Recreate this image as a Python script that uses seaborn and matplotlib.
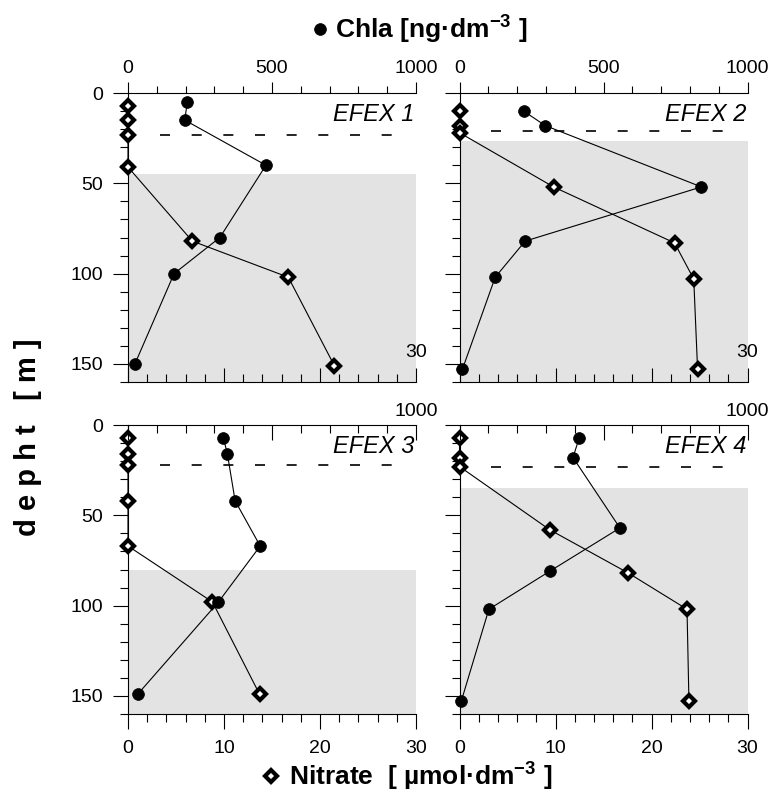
import pandas as pd
import seaborn as sns
import matplotlib.pyplot as plt
from matplotlib.lines import Line2D
from matplotlib.ticker import MultipleLocator

# Stations
stations = ["EFEX 1", "EFEX 2", "EFEX 3", "EFEX 4"]

# Chla profiles [ng/dm3] vs depth [m]
chla_depth_1 = [5, 15, 40, 80, 100, 150]
chla_1 = [206, 197, 479, 319, 160, 24]
chla_depth_2 = [10, 18, 52, 82, 102, 153]
chla_2 = [223, 297, 840, 228, 124, 10]
chla_depth_3 = [7, 16, 42, 67, 98, 149]
chla_3 = [331, 345, 372, 459, 314, 34]
chla_depth_4 = [7, 18, 57, 81, 102, 153]
chla_4 = [416, 394, 557, 313, 102, 6]

# Nitrate profiles [umol/dm3] vs depth [m]
no3_depth_1 = [7, 15, 23, 41, 82, 102, 151]
no3_1 = [0, 0, 0, 0, 6.7, 16.7, 21.5]
no3_depth_2 = [10, 18, 22, 52, 83, 103, 153]
no3_2 = [0, 0, 0, 9.8, 22.4, 24.4, 24.8]
no3_depth_3 = [7, 16, 22, 42, 67, 98, 149]
no3_3 = [0, 0, 0, 0, 0, 8.8, 13.7]
no3_depth_4 = [7, 18, 23, 58, 82, 102, 153]
no3_4 = [0, 0, 0, 9.4, 17.6, 23.7, 23.9]

# mixed layer depth (dashed) and top of shaded layer [m]
mixed_layer = [23, 21, 22, 23]
shade_top = [45, 26.5, 80, 35]

depth_max = 160
no3_max = 30
chla_max = 1000

chla = [chla_1, chla_2, chla_3, chla_4]
chla_depth = [chla_depth_1, chla_depth_2, chla_depth_3, chla_depth_4]
no3 = [no3_1, no3_2, no3_3, no3_4]
no3_depth = [no3_depth_1, no3_depth_2, no3_depth_3, no3_depth_4]

sns.set_style("ticks")
plt.rcParams["font.family"] = ["Liberation Sans", "DejaVu Sans"]
plt.rcParams["mathtext.fontset"] = "custom"
plt.rcParams["mathtext.rm"] = "Liberation Sans:bold"
plt.rcParams["mathtext.it"] = "Liberation Sans:italic:bold"
plt.rcParams["mathtext.bf"] = "Liberation Sans:bold"
for k in ["text.color", "axes.labelcolor", "xtick.color", "ytick.color",
          "axes.edgecolor"]:
    plt.rcParams[k] = "black"

chla_style = dict(color="k", lw=0.8, marker="o", markersize=8.5,
                  markeredgecolor="k", markeredgewidth=0.5)
no3_style = dict(color="k", lw=0.8, marker="D", markersize=6,
                 markerfacecolor="white", markeredgecolor="k",
                 markeredgewidth=3)

W, H = 773, 805
fig = plt.figure(figsize=(W / 100, H / 100), dpi=100)

# panel boxes in pixels: left, top
boxes = [(128, 93), (459.5, 93), (128, 425), (459.5, 425)]
pw, ph = 288, 289

for i in range(4):
    x0, y0 = boxes[i]
    ax = fig.add_axes([x0 / W, 1 - (y0 + ph) / H, pw / W, ph / H])
    ax2 = ax.twiny()
    top_row = i < 2

    ax.axhspan(shade_top[i], depth_max, color="#e3e3e3", lw=0, zorder=0)
    ax.axhline(mixed_layer[i], xmin=0.11, xmax=0.94, color="k", lw=1.2,
               ls=(0, (6, 13)), zorder=1)

    df_no3 = pd.DataFrame({"no3": no3[i], "depth": no3_depth[i]})
    sns.lineplot(data=df_no3, x="no3", y="depth", ax=ax, orient="y",
                 estimator=None, clip_on=False, zorder=3, **no3_style)

    df_chla = pd.DataFrame({"chla": chla[i], "depth": chla_depth[i]})
    sns.lineplot(data=df_chla, x="chla", y="depth", ax=ax2, orient="y",
                 estimator=None, clip_on=False, zorder=3, **chla_style)

    ax.set_xlim(0, no3_max)
    ax2.set_xlim(0, chla_max)
    ax.set_ylim(depth_max, 0)
    ax.set_xlabel("")
    ax.set_ylabel("")
    ax2.set_xlabel("")
    ax2.set_ylabel("")

    ax.xaxis.set_major_locator(MultipleLocator(10))
    ax.xaxis.set_minor_locator(MultipleLocator(2))
    ax.yaxis.set_major_locator(MultipleLocator(50))
    ax.yaxis.set_minor_locator(MultipleLocator(10))
    ax2.xaxis.set_major_locator(MultipleLocator(500))
    ax2.xaxis.set_minor_locator(MultipleLocator(100))

    ax.tick_params(axis="y", which="major", direction="out", length=11,
                   width=0.8, labelsize=14, pad=7, labelleft=(i % 2 == 0))
    ax.tick_params(axis="y", which="minor", direction="out", length=5.5,
                   width=0.8)

    if top_row:
        ax.tick_params(axis="x", which="major", direction="in", length=10,
                       width=0.8, labelbottom=False)
        ax.tick_params(axis="x", which="minor", direction="in", length=6,
                       width=0.8)
        ax2.tick_params(axis="x", which="major", direction="out", length=8,
                        width=0.8, labelsize=14, pad=3.5, labeltop=True)
        ax2.tick_params(axis="x", which="minor", direction="out", length=4.8,
                        width=0.8)
        ax.text(no3_max, 0.102, "30", transform=ax.get_xaxis_transform(),
                ha="center", va="center", fontsize=14)
    else:
        ax.tick_params(axis="x", which="major", direction="out", length=11,
                       width=0.8, labelsize=14, pad=8, labelbottom=True)
        ax.tick_params(axis="x", which="minor", direction="out", length=5.5,
                       width=0.8)
        ax2.tick_params(axis="x", which="major", direction="in", length=11,
                        width=0.8, labeltop=False)
        ax2.tick_params(axis="x", which="minor", direction="in", length=5.5,
                        width=0.8)
        ax2.text(chla_max, 1.046, "1000", transform=ax2.get_xaxis_transform(),
                 ha="center", va="center", fontsize=14)

    for s in ["top", "right"]:
        ax.spines[s].set_visible(False)
    for s in ["left", "right", "bottom"]:
        ax2.spines[s].set_visible(False)
    for a in (ax, ax2):
        for sp in a.spines.values():
            sp.set_linewidth(0.8)
            sp.set_color("k")

    ax.text(0.995, 0.925, stations[i], transform=ax.transAxes, ha="right",
            va="center", fontsize=17, style="italic", zorder=5)

# axis titles with their marker symbols
title_prop = {"weight": "bold", "size": 19}
h_chla = Line2D([], [], ls="none", **{k: v for k, v in chla_style.items() if k != "lw"})
h_no3 = Line2D([], [], ls="none", **{k: v for k, v in no3_style.items() if k != "lw"})
fig.legend(handles=[h_chla], labels=["Chla [ng·dm$^{-3}$ ]"], loc="center left",
           bbox_to_anchor=(313 / W, 1 - 30 / H), frameon=False, prop=title_prop,
           handlelength=0.55, handletextpad=0.3, borderpad=0, borderaxespad=0)
fig.legend(handles=[h_no3], labels=["Nitrate  [ µmol·dm$^{-3}$ ]"], loc="center left",
           bbox_to_anchor=(263 / W, 1 - 777 / H), frameon=False, prop=title_prop,
           handlelength=0.62, handletextpad=0.35, borderpad=0, borderaxespad=0)

fig.text(28 / W, 1 - 437 / H, "d e p h t   [ m ]", rotation=90, fontsize=21,
         fontweight="bold", ha="center", va="center")

plt.savefig("out.png", dpi=100)
